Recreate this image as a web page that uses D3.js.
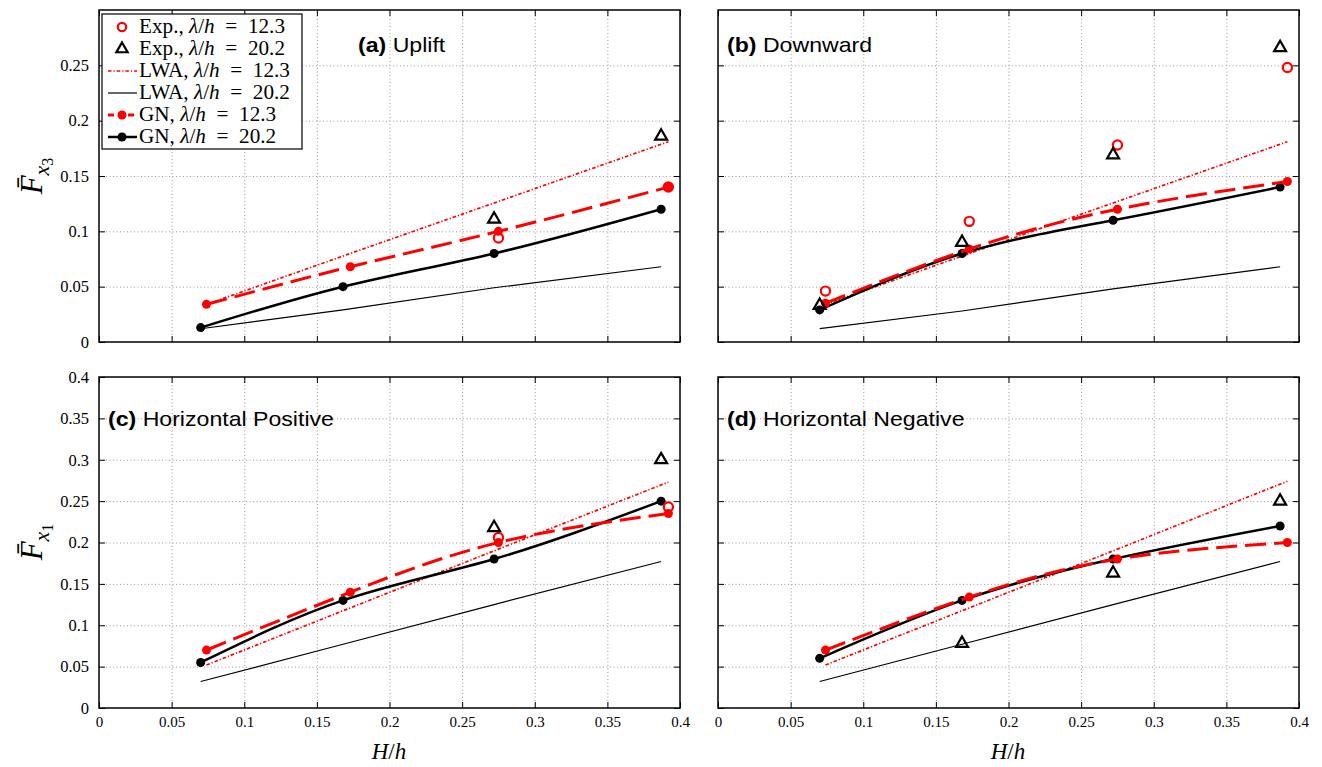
<!DOCTYPE html>
<html>
<head>
<meta charset="utf-8">
<script src="https://cdn.jsdelivr.net/npm/d3@7"></script>
<style>
  body { margin: 0; background: #fff; }
  svg { display: block; }
  .tick text { font-family: "Liberation Serif", "Times New Roman", serif; fill: #000; }
  .grid line { stroke: #9a9a9a; stroke-dasharray: 1,2.5; }
  .grid .domain { display: none; }
  .ax .domain { display: none; }
  .ax line { stroke: #000; stroke-width: 1; }
</style>
</head>
<body>
<svg id="chart" width="1322" height="767"></svg>
<script>
// H/h positions of the two wave cases
const hRatio12 = [0.074, 0.173, 0.275, 0.392];
const hRatio20 = [0.070, 0.168, 0.272, 0.387];

const xTicks = [0, 0.05, 0.1, 0.15, 0.2, 0.25, 0.3, 0.35, 0.4];
const yTicksTop = [0, 0.05, 0.1, 0.15, 0.2, 0.25];
const yTicksBottom = [0, 0.05, 0.1, 0.15, 0.2, 0.25, 0.3, 0.35, 0.4];

// (a) Uplift
const upliftExp12 = [null, null, 0.094, 0.140];
const upliftExp20 = [null, null, 0.111, 0.186];
const upliftLwa12 = [0.034, 0.080, 0.127, 0.181];
const upliftLwa20 = [0.012, 0.029, 0.049, 0.068];
const upliftGn12 = [0.034, 0.068, 0.100, 0.140];
const upliftGn20 = [0.013, 0.050, 0.080, 0.120];

// (b) Downward
const downExp12 = [0.046, 0.109, 0.178, 0.248];
const downExp20 = [0.033, 0.090, 0.169, 0.266];
const downLwa12 = [0.034, 0.080, 0.127, 0.181];
const downLwa20 = [0.012, 0.028, 0.048, 0.068];
const downGn12 = [0.035, 0.084, 0.120, 0.145];
const downGn20 = [0.029, 0.080, 0.110, 0.140];

// (c) Horizontal Positive
const hPosExp12 = [null, null, 0.206, 0.243];
const hPosExp20 = [null, null, 0.218, 0.300];
const hPosLwa12 = [0.052, 0.121, 0.192, 0.273];
const hPosLwa20 = [0.032, 0.077, 0.125, 0.177];
const hPosGn12 = [0.070, 0.140, 0.200, 0.235];
const hPosGn20 = [0.055, 0.130, 0.180, 0.250];

// (d) Horizontal Negative
const hNegExp12 = [null, null, null, null];
const hNegExp20 = [null, 0.078, 0.163, 0.250];
const hNegLwa12 = [0.052, 0.121, 0.192, 0.274];
const hNegLwa20 = [0.032, 0.077, 0.125, 0.177];
const hNegGn12 = [0.070, 0.134, 0.180, 0.200];
const hNegGn20 = [0.060, 0.130, 0.180, 0.220];

const RED = "#ff0000";
const serif = '"Liberation Serif", "Times New Roman", serif';
const sans = '"Liberation Sans", Arial, Helvetica, sans-serif';

const svg = d3.select("#chart");

const panels = [
  { tag: "(a)", name: "Uplift", left: 99, top: 10, w: 581, h: 332, yMax: 0.3, yTicks: yTicksTop,
    showX: false, showY: true, titleX: 259, titleY: 42,
    exp12: upliftExp12, exp20: upliftExp20, lwa12: upliftLwa12, lwa20: upliftLwa20, gn12: upliftGn12, gn20: upliftGn20 },
  { tag: "(b)", name: "Downward", left: 718, top: 10, w: 581, h: 332, yMax: 0.3, yTicks: yTicksTop,
    showX: false, showY: false, titleX: 9, titleY: 42,
    exp12: downExp12, exp20: downExp20, lwa12: downLwa12, lwa20: downLwa20, gn12: downGn12, gn20: downGn20 },
  { tag: "(c)", name: "Horizontal Positive", left: 99, top: 377, w: 581, h: 331, yMax: 0.4, yTicks: yTicksBottom,
    showX: true, showY: true, titleX: 9, titleY: 49,
    exp12: hPosExp12, exp20: hPosExp20, lwa12: hPosLwa12, lwa20: hPosLwa20, gn12: hPosGn12, gn20: hPosGn20 },
  { tag: "(d)", name: "Horizontal Negative", left: 718, top: 377, w: 581, h: 331, yMax: 0.4, yTicks: yTicksBottom,
    showX: true, showY: false, titleX: 9, titleY: 49,
    exp12: hNegExp12, exp20: hNegExp20, lwa12: hNegLwa12, lwa20: hNegLwa20, gn12: hNegGn12, gn20: hNegGn20 }
];

const pts = (xs, ys) => xs.map((x, i) => ({ x, y: ys[i] })).filter(d => d.y != null);
const fmt = d => d === 0 ? "0" : String(+d.toFixed(2));

// stretch a text element horizontally, like the reference's wide type
function stretch(sel, k) {
  const n = sel.node();
  const w = n.getComputedTextLength();
  sel.attr("textLength", w * k).attr("lengthAdjust", "spacingAndGlyphs");
}

panels.forEach(p => {
  const x = d3.scaleLinear().domain([0, 0.4]).range([0, p.w]);
  const y = d3.scaleLinear().domain([0, p.yMax]).range([p.h, 0]);
  const g = svg.append("g").attr("transform", `translate(${p.left},${p.top})`);

  // dotted grid
  g.append("g").attr("class", "grid").attr("transform", `translate(0,${p.h})`)
    .call(d3.axisBottom(x).tickValues(xTicks.slice(1, -1)).tickSize(-p.h).tickFormat(""));
  g.append("g").attr("class", "grid")
    .call(d3.axisLeft(y).tickValues(p.yTicks.filter(v => v > 0 && v < p.yMax)).tickSize(-p.w).tickFormat(""));

  // inward ticks on all four sides
  g.append("g").attr("class", "ax").attr("transform", `translate(0,${p.h})`)
    .call(d3.axisBottom(x).tickValues(xTicks).tickSize(-6).tickPadding(8)
      .tickFormat(p.showX ? fmt : ""))
    .selectAll("text").attr("font-size", 15);
  g.append("g").attr("class", "ax")
    .call(d3.axisTop(x).tickValues(xTicks).tickSize(-6).tickFormat(""));
  g.append("g").attr("class", "ax")
    .call(d3.axisLeft(y).tickValues(p.yTicks).tickSize(-6).tickPadding(10)
      .tickFormat(p.showY ? fmt : ""))
    .selectAll("text").attr("font-size", 16.5);
  g.append("g").attr("class", "ax").attr("transform", `translate(${p.w},0)`)
    .call(d3.axisRight(y).tickValues(p.yTicks).tickSize(-6).tickFormat(""));

  const line = d3.line().x(d => x(d.x)).y(d => y(d.y));
  const smooth = d3.line().x(d => x(d.x)).y(d => y(d.y)).curve(d3.curveNatural);

  // LWA lines
  g.append("path").attr("d", line(pts(hRatio20, p.lwa20)))
    .attr("fill", "none").attr("stroke", "#000").attr("stroke-width", 1.2);
  g.append("path").attr("d", line(pts(hRatio12, p.lwa12)))
    .attr("fill", "none").attr("stroke", RED).attr("stroke-width", 1.7)
    .attr("stroke-dasharray", "3.5,2,1.2,2");

  // GN curves
  g.append("path").attr("d", smooth(pts(hRatio20, p.gn20)))
    .attr("fill", "none").attr("stroke", "#000").attr("stroke-width", 2.5);
  g.selectAll(".gn20").data(pts(hRatio20, p.gn20)).join("circle")
    .attr("cx", d => x(d.x)).attr("cy", d => y(d.y)).attr("r", 4.5).attr("fill", "#000");
  g.append("path").attr("d", smooth(pts(hRatio12, p.gn12)))
    .attr("fill", "none").attr("stroke", RED).attr("stroke-width", 3)
    .attr("stroke-dasharray", "21,8");
  g.selectAll(".gn12").data(pts(hRatio12, p.gn12)).join("circle")
    .attr("cx", d => x(d.x)).attr("cy", d => y(d.y)).attr("r", 4.5).attr("fill", RED);

  // experiments
  g.selectAll(".exp12").data(pts(hRatio12, p.exp12)).join("circle")
    .attr("cx", d => x(d.x)).attr("cy", d => y(d.y)).attr("r", 4.6)
    .attr("fill", "none").attr("stroke", RED).attr("stroke-width", 2.2);
  g.selectAll(".exp20").data(pts(hRatio20, p.exp20)).join("path")
    .attr("transform", d => `translate(${x(d.x)},${y(d.y)})`)
    .attr("d", d3.symbol(d3.symbolTriangle, 62))
    .attr("fill", "none").attr("stroke", "#000").attr("stroke-width", 2.2);

  // frame
  g.append("rect").attr("width", p.w).attr("height", p.h)
    .attr("fill", "none").attr("stroke", "#000").attr("stroke-width", 1.5);

  // panel title
  const t = g.append("text").attr("x", p.titleX).attr("y", p.titleY)
    .attr("font-family", sans).attr("font-size", 21).attr("fill", "#000");
  t.append("tspan").attr("font-weight", "bold").text(p.tag);
  t.append("tspan").text("\u00a0" + p.name);
  stretch(t, 1.1);
});

// y axis labels
function yLabel(cx, cy, sub) {
  const t = svg.append("text").attr("transform", `translate(${cx},${cy}) rotate(-90)`)
    .attr("text-anchor", "middle").attr("font-family", serif).attr("font-size", 31).attr("fill", "#000");
  t.append("tspan").attr("font-style", "italic").text("F\u0304");
  t.append("tspan").attr("font-style", "italic").attr("font-size", 22).attr("dy", 7).text("x");
  t.append("tspan").attr("font-size", 16).attr("dy", 4).text(sub);
}
yLabel(42, 176, "3");
yLabel(42, 542, "1");

// x axis labels
[389, 1008].forEach(cx => {
  const t = svg.append("text").attr("x", cx).attr("y", 759).attr("text-anchor", "middle")
    .attr("font-family", serif).attr("font-size", 23).attr("fill", "#000");
  t.append("tspan").attr("font-style", "italic").text("H");
  t.append("tspan").text("/");
  t.append("tspan").attr("font-style", "italic").text("h");
});

// legend
const legendItems = [
  { kind: "circle", color: RED, label: "Exp.,", val: "12.3" },
  { kind: "tri", color: "#000", label: "Exp.,", val: "20.2" },
  { kind: "dashdot", color: RED, label: "LWA,", val: "12.3" },
  { kind: "solid", color: "#000", label: "LWA,", val: "20.2" },
  { kind: "gn12", color: RED, label: "GN,", val: "12.3" },
  { kind: "gn20", color: "#000", label: "GN,", val: "20.2" }
];
const lg = svg.append("g");
lg.append("rect").attr("x", 102).attr("y", 14).attr("width", 200).attr("height", 135)
  .attr("fill", "#fff").attr("stroke", "#000").attr("stroke-width", 1.2);
legendItems.forEach((it, i) => {
  const cy = 27 + i * 22;
  const row = lg.append("g");
  if (it.kind === "circle") {
    row.append("circle").attr("cx", 122).attr("cy", cy).attr("r", 4.2)
      .attr("fill", "none").attr("stroke", it.color).attr("stroke-width", 2.2);
  } else if (it.kind === "tri") {
    row.append("path").attr("transform", `translate(122,${cy})`)
      .attr("d", d3.symbol(d3.symbolTriangle, 55)).attr("fill", "none")
      .attr("stroke", it.color).attr("stroke-width", 2.2);
  } else {
    const ln = row.append("line").attr("x1", 108).attr("x2", 137).attr("y1", cy).attr("y2", cy)
      .attr("stroke", it.color);
    if (it.kind === "dashdot") ln.attr("stroke-width", 1.7).attr("stroke-dasharray", "3.5,2,1.2,2");
    if (it.kind === "solid") ln.attr("stroke-width", 1.2);
    if (it.kind === "gn12") ln.attr("stroke-width", 3).attr("stroke-dasharray", "6,4");
    if (it.kind === "gn20") ln.attr("stroke-width", 2.5);
    if (it.kind === "gn12" || it.kind === "gn20")
      row.append("circle").attr("cx", 122).attr("cy", cy).attr("r", 4.5).attr("fill", it.color);
  }
  const t = row.append("text").attr("x", 139).attr("y", cy + 6)
    .attr("font-family", serif).attr("font-size", 20).attr("fill", "#000")
    .style("white-space", "pre");
  t.append("tspan").text(it.label + " ");
  t.append("tspan").attr("font-style", "italic").text("\u03bb");
  t.append("tspan").text("/");
  t.append("tspan").attr("font-style", "italic").text("h");
  t.append("tspan").text("  =  " + it.val);
  stretch(t, 1.06);
});
</script>
</body>
</html>
